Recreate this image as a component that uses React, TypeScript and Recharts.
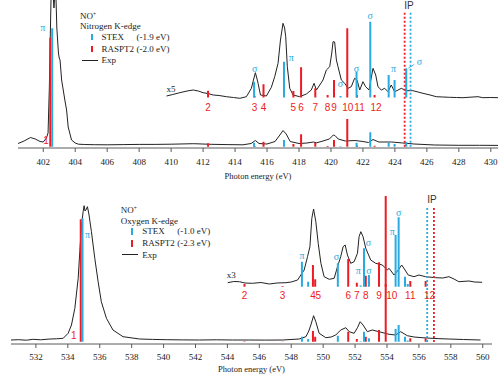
import React from "react";
import { ComposedChart, Line, Scatter, XAxis, YAxis, Label } from "recharts";

const RED = "#ed1c24";
const BLUE = "#29abe2";
const INK = "#222222";
const FRAME = "#5a5a5a";
const SERIF = "'Liberation Serif', 'DejaVu Serif', serif";
const SANS = "'Liberation Sans', 'DejaVu Sans', sans-serif";

// ---- Nitrogen K-edge ----
const N_TICKS = [402, 404, 406, 408, 410, 412, 414, 416, 418, 420, 422, 424, 426, 428, 430];

const N_EXP_X = [400.42, 400.8, 401.2, 401.5, 401.8, 402.0, 402.2, 402.3, 402.38, 402.45, 402.5, 402.56, 402.67, 402.77, 402.85, 402.95, 403.0, 403.05, 403.15, 403.25, 403.35, 403.46, 403.56, 403.77, 404.0, 404.2, 404.6, 405.2, 406.0, 407.0, 408.0, 409.0, 410.0, 411.4, 412.5, 413.5, 414.5, 415.0, 415.27, 415.5, 416.0, 416.5, 416.85, 417.0, 417.2, 417.45, 418.0, 418.5, 418.9, 419.1, 419.5, 419.9, 420.15, 420.25, 420.45, 420.9, 421.5, 422.0, 422.35, 422.63, 423.0, 423.8, 424.5, 425.2, 426.5, 428.0, 429.3, 430.45];
const N_EXP_Y = [4.5, 7, 10.5, 9, 6.5, 6, 10, 15, 60, 120, 160, 165, 140, 165, 120, 95, 90, 88, 68, 58, 48, 38, 21, 8, 5, 3.8, 3.5, 3.3, 3.2, 3.4, 3.6, 3.6, 3.8, 4.3, 3.7, 3.4, 3.2, 4.5, 7.5, 4.5, 4, 6.5, 14, 17.5, 14, 6.5, 4.5, 5, 6, 5.2, 7, 9, 13, 12.5, 9, 7, 7.5, 6.5, 5.5, 8.5, 6, 6, 5, 4, 3, 2.7, 2.7, 2.6];

const N_ZOOM_X = [409.71, 410.1, 410.54, 411.0, 411.38, 411.7, 412.0, 412.3, 412.63, 413.0, 413.46, 413.9, 414.3, 414.71, 415.02, 415.15, 415.27, 415.36, 415.44, 415.59, 415.96, 416.27, 416.48, 416.69, 416.84, 417.0, 417.1, 417.17, 417.27, 417.42, 417.63, 418.04, 418.46, 418.77, 418.94, 419.09, 419.3, 419.5, 419.71, 419.92, 420.05, 420.13, 420.23, 420.34, 420.44, 420.65, 420.86, 421.07, 421.27, 421.48, 421.63, 421.8, 422.0, 422.17, 422.38, 422.63, 422.8, 422.94, 423.15, 423.36, 423.57, 423.77, 423.98, 424.2, 424.4, 424.71, 425.13, 425.45, 425.75, 426.2, 426.59, 427.0, 427.42, 427.85, 428.26, 428.7, 429.2, 429.5, 430.0, 430.45];
const N_ZOOM_Y = [52, 53.5, 55.3, 57, 58, 57, 55.3, 54.5, 53, 52.5, 51.3, 50.5, 49.7, 51.3, 59.7, 68, 75.3, 70, 64.7, 53, 52, 60.7, 71.3, 84.7, 108, 124.7, 120, 111.3, 81.3, 59.7, 53, 51.3, 54, 58, 64.7, 58, 63, 68, 78, 81.3, 95, 106.3, 106, 88, 81.3, 68, 64.7, 59.7, 61.3, 69.7, 68, 58, 66.3, 61.3, 58, 79.7, 73, 61.3, 58, 59.7, 56.3, 63, 56.3, 58, 59.7, 57.3, 57.3, 56, 54.7, 53, 51.3, 51, 50.7, 50.5, 50.3, 50.8, 51.3, 50.3, 50.5, 50.3];

const N_STEX_E = [402.56, 415.19, 417.06, 420.6, 421.6, 422.46, 423.61, 423.98, 424.71];
const N_STEX_LOW = [119.7, 5.3, 8, 1.8, 5.3, 15.7, 5.3, 4, 6.3];
const N_STEX_ZOOM = [null, 66.3, 86.3, 52, 76.3, 126.3, 73, 68, 79.7];
const N_STEX_SYM = ["π", "σ", "π", "σ", "σ", "σ", "", "π", "σ"];

const N_RAS_E = [402.44, 412.31, 415.22, 415.78, 417.65, 418.13, 419.02, 419.79, 420.19, 421.02, 421.63, 422.73];
const N_RAS_LOW = [110.3, 4.7, 2, 6.3, 4, 13.7, 5.3, 2, 8, 29, 2.5, 2.3];
const N_RAS_ZOOM = [null, 57.3, 52, 63.7, 57, 80.7, 59.7, 53, 68, 119.7, 53, 53];

const N_IP_RED = 424.61;
const N_IP_BLUE = 424.98;

// ---- Oxygen K-edge ----
const O_TICKS = [532, 534, 536, 538, 540, 542, 544, 546, 548, 550, 552, 554, 556, 558, 560];

const O_EXP_X = [530.44, 530.9, 531.4, 531.83, 532.3, 532.88, 533.3, 533.71, 534.02, 534.23, 534.44, 534.65, 534.75, 534.86, 534.96, 535.02, 535.08, 535.13, 535.23, 535.33, 535.48, 535.69, 535.9, 536.1, 536.42, 536.83, 537.46, 538.5, 539.3, 540.17, 541.2, 542.25, 543.3, 544.33, 545.38, 546.4, 547.46, 548.5, 548.92, 549.1, 549.23, 549.4, 549.54, 549.75, 550.17, 550.5, 550.79, 551.1, 551.42, 551.63, 551.94, 552.15, 552.32, 552.5, 552.77, 553.08, 553.5, 554.13, 554.54, 554.86, 555.27, 555.7, 556.2, 557.0, 557.88, 558.8, 559.86];
const O_EXP_Y = [4, 4.3, 3.8, 4.7, 4.2, 5, 5.2, 5.7, 10.7, 19, 35.7, 65.7, 92.3, 119, 132.3, 138.3, 133, 134, 137.3, 129, 112.3, 85.7, 62.3, 42.3, 25.7, 14, 7.3, 5, 4.6, 4.3, 4.1, 4, 4.2, 4, 4, 3.9, 4, 5, 7.3, 13, 19, 28.3, 22.3, 10.7, 6.3, 7, 9, 14, 16.3, 12.3, 10.7, 16.3, 22.3, 19, 12.3, 14, 12.3, 9.7, 9, 12.3, 8.3, 7, 6.3, 5.5, 5, 4.5, 4];

const O_ZOOM_X = [544.02, 544.4, 544.75, 545.1, 545.58, 546.1, 546.63, 547.1, 547.67, 548.0, 548.4, 548.6, 548.81, 549.02, 549.17, 549.29, 549.4, 549.54, 549.69, 549.86, 550.06, 550.38, 550.69, 550.9, 551.1, 551.25, 551.38, 551.52, 551.73, 551.94, 552.15, 552.25, 552.36, 552.5, 552.67, 552.98, 553.29, 553.71, 554.02, 554.13, 554.44, 554.71, 554.92, 555.13, 555.33, 555.69, 556.0, 556.42, 557.04, 557.5, 557.88, 558.2, 558.5, 559.13, 559.5, 559.96];
const O_ZOOM_Y = [61.3, 62.5, 62.3, 61, 60.7, 61.5, 60, 61, 61.3, 62, 64, 69, 74, 87.3, 97.3, 125.7, 135, 122.3, 100.7, 80.7, 67.3, 64.7, 65.7, 77.3, 87.3, 97.3, 99, 89, 80.7, 82.3, 90.7, 107.3, 112.3, 107.3, 95.7, 84, 80.7, 79, 74, 75.7, 69, 74, 79, 74, 69, 67.3, 69, 67.3, 66.3, 66, 67.3, 65, 62.3, 63, 62, 61.7];

const O_STEX_E = [534.92, 548.67, 549.06, 550.92, 552.35, 552.56, 552.87, 554.54, 554.73, 555.13, 555.3];
const O_STEX_LOW = [125.7, 7.3, 5, 8.3, 2.8, 12.3, 5.7, 15, 19, 7.3, 3.5];
const O_STEX_ZOOM = [null, 82.3, 62.3, 80.7, 58.5, 95.7, 69, 109, 126.7, 67.3, 60];
const O_STEX_SYM = ["π", "π", "", "σ", "π", "σ", "σ", "π", "σ", "", ""];

const O_RAS_E = [534.81, 545.07, 547.46, 549.36, 549.5, 551.57, 552.11, 552.67, 553.5, 553.92, 555.46, 556.42];
const O_RAS_LOW = [124.7, 2.8, 2.5, 13, 7.3, 12.3, 5, 7.3, 14, 148, 5.7, 5.7];
const O_RAS_ZOOM = [null, 60, 58, 79, 64.7, 85, 61.3, 68.3, 81.7, 60, 63, 63];

const O_IP_RED = 556.94;
const O_IP_BLUE = 556.52;

type Pt = { x: number; y: number | null };

const toSeries = (xs: number[], ys: number[]): Pt[] => xs.map((x, i) => ({ x, y: ys[i] }));

// each stick becomes base -> top, then a null to break the line
const sticks = (xs: number[], tops: (number | null)[], base: number): Pt[] => {
  const pts: Pt[] = [];
  xs.forEach((x, i) => {
    const t = tops[i];
    if (t === null || t === undefined) return;
    pts.push({ x, y: base }, { x, y: t }, { x, y: null });
  });
  return pts;
};

const SymShape = (p: any) => {
  const { cx, cy, payload } = p;
  if (cx == null || cy == null) return <g />;
  return (
    <g>
      {payload.leader && (
        <line x1={cx + 2} y1={cy} x2={cx + 8} y2={cy - 4} stroke={BLUE} strokeWidth={0.8} />
      )}
      <text
        x={cx + payload.dx}
        y={cy - 6 + payload.dy}
        textAnchor="middle"
        dominantBaseline="central"
        fill={BLUE}
        fontSize={10}
        fontFamily={SERIF}
      >
        {payload.text}
      </text>
    </g>
  );
};

const NumShape = (p: any) => {
  const { cx, cy, payload } = p;
  if (cx == null || cy == null) return <g />;
  return (
    <text
      x={cx + payload.dx}
      y={cy}
      textAnchor="middle"
      dominantBaseline="central"
      fill={RED}
      fontSize={10}
      fontFamily={SANS}
    >
      {payload.text}
    </text>
  );
};

interface PanelProps {
  top: number;
  height: number;
  margin: { top: number; right: number; bottom: number; left: number };
  axisHeight: number;
  tickMargin: number;
  titleDy: number;
  yTitleDx: number;
  yTitleDy: number;
  domain: [number, number];
  yMax: number;
  ticks: number[];
  expX: number[];
  expY: number[];
  zoomX: number[];
  zoomY: number[];
  stexE: number[];
  stexLow: number[];
  stexZoom: (number | null)[];
  stexSym: string[];
  rasE: number[];
  rasLow: number[];
  rasZoom: (number | null)[];
  lowBase: number;
  zoomBase: number;
  labelRow: number;
  firstLabelRow: number;
  rasNudge: Record<number, number>;
  symNudge: Record<number, [number, number]>;
  leaderIdx: number;
  ipRed: number;
  ipBlue: number;
  ipSpan: [number, number];
}

function Panel(p: PanelProps) {
  const expData = toSeries(p.expX, p.expY);
  const zoomData = toSeries(p.zoomX, p.zoomY);
  const rasLow = sticks(p.rasE, p.rasLow, p.lowBase);
  const rasZoom = sticks(p.rasE, p.rasZoom, p.zoomBase);
  const stexLow = sticks(p.stexE, p.stexLow, p.lowBase);
  const stexZoom = sticks(p.stexE, p.stexZoom, p.zoomBase);
  const ipRed = [{ x: p.ipRed, y: p.ipSpan[0] }, { x: p.ipRed, y: p.ipSpan[1] }];
  const ipBlue = [{ x: p.ipBlue, y: p.ipSpan[0] }, { x: p.ipBlue, y: p.ipSpan[1] }];

  const numLabels = p.rasE.map((e, i) => ({
    x: e,
    y: i === 0 ? p.firstLabelRow : p.labelRow,
    text: String(i + 1),
    dx: p.rasNudge[i] ?? 0,
  }));

  const symLabels = p.stexE
    .map((e, i) => {
      if (!p.stexSym[i]) return null;
      const n = p.symNudge[i] ?? [0, 0];
      return {
        x: e,
        y: p.stexZoom[i] ?? p.stexLow[i],
        text: p.stexSym[i],
        dx: n[0],
        dy: n[1],
        leader: i === p.leaderIdx,
      };
    })
    .filter((d) => d !== null);

  const lineCommon = { dataKey: "y", dot: false, activeDot: false, isAnimationActive: false } as const;

  return (
    <div style={{ position: "absolute", left: 0, top: p.top }}>
      <ComposedChart width={500} height={p.height} margin={p.margin}>
        <XAxis
          dataKey="x"
          type="number"
          domain={p.domain}
          allowDataOverflow
          ticks={p.ticks}
          interval={0}
          height={p.axisHeight}
          tickSize={4}
          tickMargin={p.tickMargin}
          stroke={FRAME}
          tick={{ fill: INK, fontSize: 9, fontFamily: SERIF }}
        >
          <Label
            content={(props: any) => {
              const vb = props.viewBox;
              return (
                <text
                  x={vb.x + vb.width / 2}
                  y={vb.y + p.titleDy}
                  textAnchor="middle"
                  dominantBaseline="central"
                  fontSize={8.5}
                  fontFamily={SERIF}
                  fill={INK}
                >
                  Photon energy (eV)
                </text>
              );
            }}
          />
        </XAxis>
        <XAxis xAxisId="top" orientation="top" dataKey="x" type="number" domain={p.domain} allowDataOverflow height={0} tick={false} tickLine={false} stroke={FRAME} />
        <YAxis type="number" domain={[0, p.yMax]} allowDataOverflow width={0} tick={false} tickLine={false} stroke={FRAME}>
          <Label
            content={(props: any) => {
              const vb = props.viewBox;
              const x = vb.x + p.yTitleDx;
              const y = vb.y + vb.height / 2 + p.yTitleDy;
              return (
                <text
                  x={x}
                  y={y}
                  transform={`rotate(-90 ${x} ${y})`}
                  textAnchor="middle"
                  dominantBaseline="central"
                  fontSize={9}
                  fontFamily={SERIF}
                  fill={INK}
                >
                  Intensity (arb.units)
                </text>
              );
            }}
          />
        </YAxis>
        <YAxis yAxisId="right" orientation="right" type="number" domain={[0, p.yMax]} allowDataOverflow width={0} tick={false} tickLine={false} stroke={FRAME} />

        <Line data={expData} {...lineCommon} stroke={INK} strokeWidth={1} />
        <Line data={zoomData} {...lineCommon} stroke={INK} strokeWidth={1} />

        <Line data={rasLow} {...lineCommon} stroke={RED} strokeWidth={2} connectNulls={false} />
        <Line data={rasZoom} {...lineCommon} stroke={RED} strokeWidth={2} connectNulls={false} />
        <Line data={stexLow} {...lineCommon} stroke={BLUE} strokeWidth={2} connectNulls={false} />
        <Line data={stexZoom} {...lineCommon} stroke={BLUE} strokeWidth={2} connectNulls={false} />

        <Line data={ipRed} {...lineCommon} stroke={RED} strokeWidth={1.8} strokeDasharray="2 2" />
        <Line data={ipBlue} {...lineCommon} stroke={BLUE} strokeWidth={1.8} strokeDasharray="2 2" />

        <Scatter data={numLabels} dataKey="y" shape={NumShape} isAnimationActive={false} />
        <Scatter data={symLabels as any[]} dataKey="y" shape={SymShape} isAnimationActive={false} />
      </ComposedChart>
    </div>
  );
}

function Txt({ x, y, children, size = 9, family = SERIF, color = INK, anchor = "left" }: any) {
  const style: React.CSSProperties = {
    position: "absolute",
    top: y - 6,
    height: 12,
    lineHeight: "12px",
    fontSize: size,
    fontFamily: family,
    color,
    whiteSpace: "nowrap",
  };
  if (anchor === "middle") {
    style.left = x - 30;
    style.width = 60;
    style.textAlign = "center";
  } else {
    style.left = x;
  }
  return <div style={style}>{children}</div>;
}

function KeyBox({ x, y, edge, stex, ras }: { x: number; y: number; edge: string; stex: string; ras: string }) {
  return (
    <>
      <Txt x={x} y={y}>
        NO<sup style={{ fontSize: 5.5, verticalAlign: "top", lineHeight: "8px" }}>+</sup>
      </Txt>
      <Txt x={x} y={y + 10.5}>{edge}</Txt>
      <div style={{ position: "absolute", left: x + 10.5, top: y + 21 - 3, width: 2, height: 6.5, background: BLUE }} />
      <Txt x={x + 21.5} y={y + 21}>STEX</Txt>
      <Txt x={x + 56.5} y={y + 21}>{stex}</Txt>
      <div style={{ position: "absolute", left: x + 10.5, top: y + 33 - 3, width: 2, height: 6.5, background: RED }} />
      <Txt x={x + 21.5} y={y + 33}>RASPT2</Txt>
      <Txt x={x + 56.5} y={y + 33}>{ras}</Txt>
      <div style={{ position: "absolute", left: x + 1.5, top: y + 44.2, width: 16, height: 1, background: INK }} />
      <Txt x={x + 21.5} y={y + 44.5}>Exp</Txt>
    </>
  );
}

export default function App() {
  return (
    <div style={{ position: "absolute", left: 0, top: 0, width: 500, height: 374, background: "#fff", overflow: "hidden" }}>
      <Panel
        top={0}
        height={185}
        margin={{ top: 0, right: 2, bottom: 0, left: 18 }}
        axisHeight={37}
        tickMargin={7}
        titleDy={28}
        yTitleDx={-7.5}
        yTitleDy={-1}
        domain={[400.42, 430.45]}
        yMax={148}
        ticks={N_TICKS}
        expX={N_EXP_X}
        expY={N_EXP_Y}
        zoomX={N_ZOOM_X}
        zoomY={N_ZOOM_Y}
        stexE={N_STEX_E}
        stexLow={N_STEX_LOW}
        stexZoom={N_STEX_ZOOM}
        stexSym={N_STEX_SYM}
        rasE={N_RAS_E}
        rasLow={N_RAS_LOW}
        rasZoom={N_RAS_ZOOM}
        lowBase={1.3}
        zoomBase={50.5}
        labelRow={41}
        firstLabelRow={8}
        rasNudge={{ 0: -4.3, 9: 0.5, 10: 2.5, 11: 1.5 }}
        symNudge={{ 0: [-9.3, 4.7], 1: [0.7, -7.4], 2: [7.4, 1.6], 3: [0, -7], 4: [0, 2.6], 5: [0, -0.7], 7: [-1, -5.7], 8: [13.3, -0.6] }}
        leaderIdx={8}
        ipRed={N_IP_RED}
        ipBlue={N_IP_BLUE}
        ipSpan={[1.3, 136]}
      />
      <Panel
        top={188}
        height={186}
        margin={{ top: 6, right: 8, bottom: 0, left: 11 }}
        axisHeight={30}
        tickMargin={6}
        titleDy={25}
        yTitleDx={-7}
        yTitleDy={-7}
        domain={[530.44, 560.58]}
        yMax={150}
        ticks={O_TICKS}
        expX={O_EXP_X}
        expY={O_EXP_Y}
        zoomX={O_ZOOM_X}
        zoomY={O_ZOOM_Y}
        stexE={O_STEX_E}
        stexLow={O_STEX_LOW}
        stexZoom={O_STEX_ZOOM}
        stexSym={O_STEX_SYM}
        rasE={O_RAS_E}
        rasLow={O_RAS_LOW}
        rasZoom={O_RAS_ZOOM}
        lowBase={2.3}
        zoomBase={57.3}
        labelRow={49}
        firstLabelRow={9}
        rasNudge={{ 0: -7, 4: 3, 9: 6, 11: 4 }}
        symNudge={{ 0: [5, 22], 3: [-1.4, -0.6], 4: [-2.3, -9.5], 5: [4.4, 0], 6: [0, 1], 7: [-3.3, 2.7], 8: [0, 1] }}
        leaderIdx={-1}
        ipRed={O_IP_RED}
        ipBlue={O_IP_BLUE}
        ipSpan={[2, 137]}
      />

      <KeyBox x={80} y={15.7} edge="Nitrogen K-edge" stex="(-1.9 eV)" ras="(-2.0 eV)" />
      <KeyBox x={120.7} y={210} edge="Oxygen K-edge" stex="(-1.0 eV)" ras="(-2.3 eV)" />

      <Txt x={171} y={88.8} anchor="middle">x5</Txt>
      <Txt x={231.3} y={275} anchor="middle">x3</Txt>
      <Txt x={409} y={6.3} anchor="middle" size={10} family={SANS} color="#333">IP</Txt>
      <Txt x={432} y={200.3} anchor="middle" size={10} family={SANS} color="#333">IP</Txt>
    </div>
  );
}
